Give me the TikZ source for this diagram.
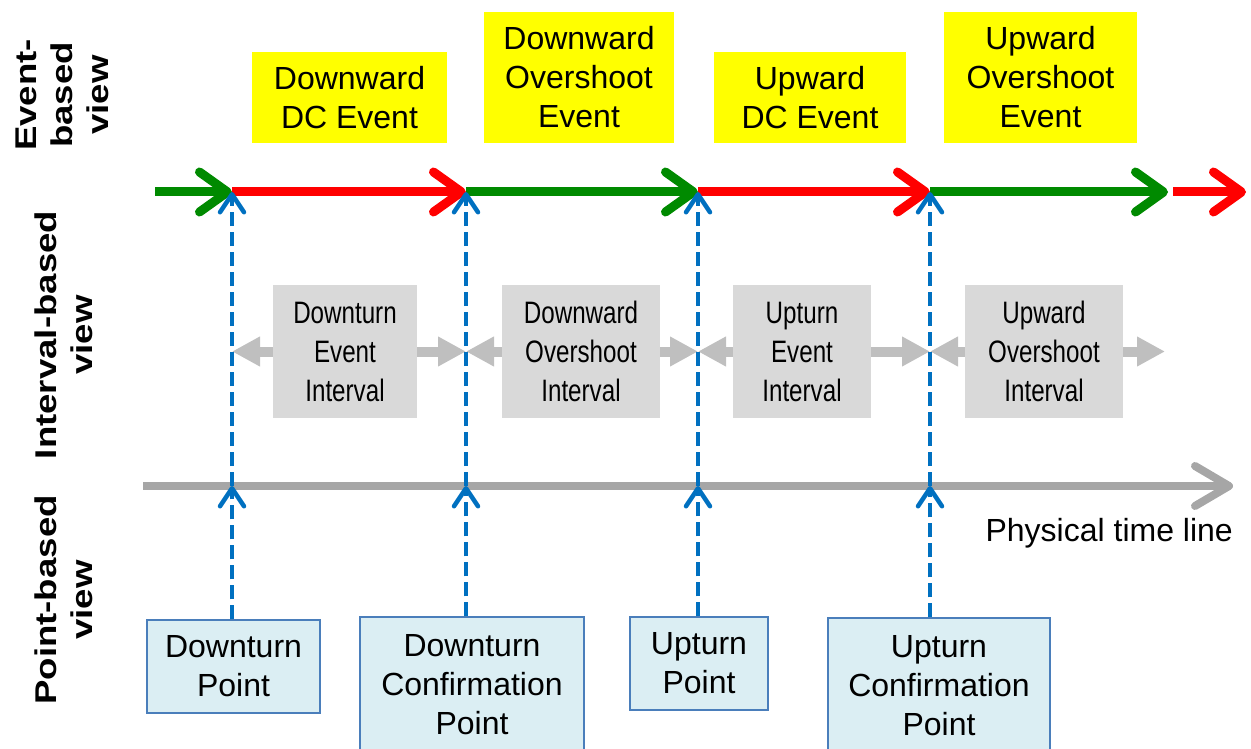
\documentclass[tikz,border=0pt]{standalone}
\usepackage{fontspec}
\setmainfont{Liberation Sans}
\newfontfamily\narrowfont[FakeStretch=0.78]{Liberation Sans}
\newfontfamily\tallfont[FakeStretch=1.22]{Liberation Sans}
\usetikzlibrary{arrows.meta}
\definecolor{evgreen}{RGB}{0,138,0}
\definecolor{evred}{RGB}{255,0,0}
\definecolor{evyellow}{RGB}{255,255,0}
\definecolor{ivgray}{RGB}{217,217,217}
\definecolor{ivarrowgray}{RGB}{191,191,191}
\definecolor{tlgray}{RGB}{166,166,166}
\definecolor{dcblue}{RGB}{0,112,192}
\definecolor{ptfill}{RGB}{219,238,243}
\definecolor{ptedge}{RGB}{74,126,187}
\tikzset{
 evbox/.style={fill=evyellow, inner sep=0pt, align=center, font=\fontsize{32}{39}\selectfont},
 ivbox/.style={fill=ivgray, inner sep=0pt, align=center, font=\narrowfont\fontsize{31}{39}\selectfont},
 ptbox/.style={fill=ptfill, draw=ptedge, line width=1.5pt, inner sep=0pt, align=center, font=\fontsize{32}{39}\selectfont},
 viewlabel/.style={rotate=90, align=center, inner sep=0pt, font=\tallfont\bfseries\fontsize{30}{36}\selectfont},
 evline/.style={line width=9pt, -{Straight Barb[round,length=28pt,width=40pt]}},
 tickline/.style={draw=dcblue, line width=4.5pt, dash pattern=on 14pt off 6pt, -{Straight Barb[round,length=18pt,width=24pt]}},
 ivarrow/.style={draw=ivarrowgray, line width=10pt, -{Triangle[length=28pt,width=28pt]}},
 timeline/.style={draw=tlgray, line width=8pt, -{Straight Barb[round,length=34pt,width=40pt]}},
}
\begin{document}
\begin{tikzpicture}[x=1pt,y=-1pt]
\path[use as bounding box] (0,0) rectangle (1251,749);

% side labels
\node[viewlabel] (lev) at (62,95) {Event-\\based\\view};
\node[viewlabel] (liv) at (64,335) {Interval-based\\view};
\node[viewlabel] (lpt) at (64,600) {Point-based\\view};

% event boxes
\node[evbox, minimum width=195pt, minimum height=91pt] (ev1) at (349.5,97.5) {Downward\\DC Event};
\node[evbox, minimum width=190pt, minimum height=131pt] (ev2) at (579,77.5) {Downward\\Overshoot\\Event};
\node[evbox, minimum width=192pt, minimum height=91pt] (ev3) at (810,97.5) {Upward\\DC Event};
\node[evbox, minimum width=193pt, minimum height=131pt] (ev4) at (1040.5,77.5) {Upward\\Overshoot\\Event};

% coordinates of the event line
\coordinate (e0) at (155,192);
\coordinate (t1) at (232,192);
\coordinate (t2) at (466,192);
\coordinate (t3) at (698,192);
\coordinate (t4) at (930,192);
\coordinate (e5) at (1168,192);
\coordinate (e6) at (1173,192);
\coordinate (e7) at (1246,192);

\draw[evline, evgreen] (e0) -- (t1);
\draw[evline, evred] (t1) -- (t2);
\draw[evline, evgreen] (t2) -- (t3);
\draw[evline, evred] (t3) -- (t4);
\draw[evline, evgreen] (t4) -- (e5);
\draw[evline, evred] (e6) -- (e7);

% physical time line
\coordinate (tl0) at (143,486);
\coordinate (tl1) at (1233,486);
\draw[timeline] (tl0) -- (tl1);
\node[anchor=base east, inner sep=0pt, font=\fontsize{32}{39}\selectfont] (ptl) at (1233,541) {Physical time line};

% interval boxes
\node[ivbox, minimum width=144pt, minimum height=133pt] (i1) at (345,351.5) {Downturn\\Event\\Interval};
\node[ivbox, minimum width=158pt, minimum height=133pt] (i2) at (581,351.5) {Downward\\Overshoot\\Interval};
\node[ivbox, minimum width=138pt, minimum height=133pt] (i3) at (802,351.5) {Upturn\\Event\\Interval};
\node[ivbox, minimum width=158pt, minimum height=133pt] (i4) at (1044,351.5) {Upward\\Overshoot\\Interval};
\coordinate (iend) at (1165,351.5);

\draw[ivarrow] (i1.west) -- (t1 |- i1.west);
\draw[ivarrow] (i1.east) -- (t2 |- i1.east);
\draw[ivarrow] (i2.west) -- (t2 |- i2.west);
\draw[ivarrow] (i2.east) -- (t3 |- i2.east);
\draw[ivarrow] (i3.west) -- (t3 |- i3.west);
\draw[ivarrow] (i3.east) -- (t4 |- i3.east);
\draw[ivarrow] (i4.west) -- (t4 |- i4.west);
\draw[ivarrow] (i4.east) -- (iend);

% point boxes
\node[ptbox, minimum width=173pt, minimum height=93pt] (p1) at (233.5,666.5) {Downturn\\Point};
\node[ptbox, minimum width=224pt, minimum height=136pt] (p2) at (472,685) {Downturn\\Confirmation\\Point};
\node[ptbox, minimum width=138pt, minimum height=93pt] (p3) at (699,663.5) {Upturn\\Point};
\node[ptbox, minimum width=222pt, minimum height=136pt] (p4) at (939,686) {Upturn\\Confirmation\\Point};

% dashed connectors
\coordinate (m1) at (t1 |- tl0);
\coordinate (m2) at (t2 |- tl0);
\coordinate (m3) at (t3 |- tl0);
\coordinate (m4) at (t4 |- tl0);
\draw[tickline] (t1 |- p1.north) -- (m1);
\draw[tickline] (m1) -- (t1);
\draw[tickline] (t2 |- p2.north) -- (m2);
\draw[tickline] (m2) -- (t2);
\draw[tickline] (t3 |- p3.north) -- (m3);
\draw[tickline] (m3) -- (t3);
\draw[tickline] (t4 |- p4.north) -- (m4);
\draw[tickline] (m4) -- (t4);
\end{tikzpicture}
\end{document}
